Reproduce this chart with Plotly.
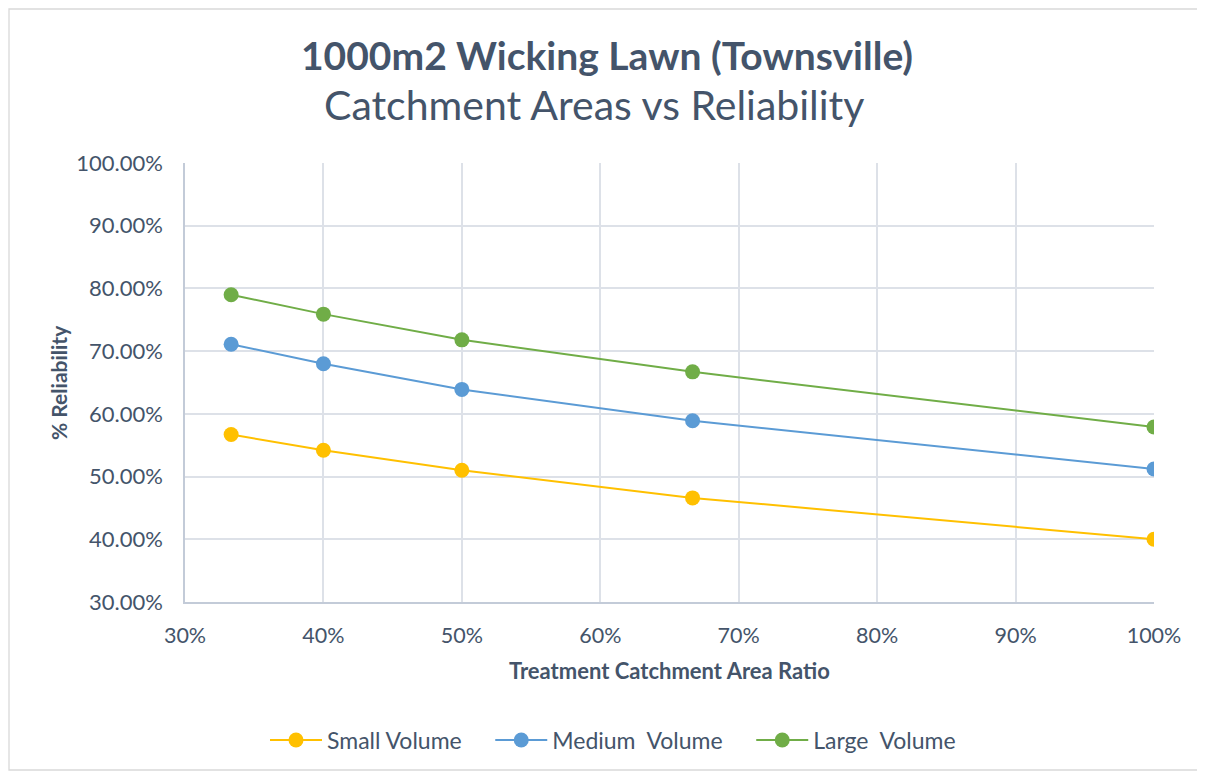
import plotly.graph_objects as go

ratios = [1/3, 0.40, 0.50, 2/3, 1.00]
small = [0.567, 0.542, 0.510, 0.466, 0.400]
medium = [0.711, 0.680, 0.639, 0.589, 0.512]
large = [0.790, 0.759, 0.718, 0.667, 0.579]
names = ["Small Volume\u00a0\u00a0\u00a0\u00a0", "Medium\u00a0 Volume\u00a0\u00a0\u00a0\u00a0", "Large\u00a0 Volume"]
colors = ["#FFC000", "#5B9BD5", "#70AD47"]

FONT = "Lato, 'Open Sans', sans-serif"
TXT = "#44546A"
fig = go.Figure()
for name, vals, c in zip(names, [small, medium, large], colors):
    fig.add_trace(go.Scatter(x=ratios, y=vals, name=name, mode="lines+markers",
                             line=dict(color=c, width=2),
                             marker=dict(color=c, size=15)))

# page has an 8px body margin; work in reference-page coordinates
O = 8
W, H = 1205 - O, 773 - O
L, R, T, B = 185 - O, 1205 - 1154, 163 - O, 773 - 602
pw, ph = W - L - R, H - T - B
def px(x): return (x - O - L) / pw
def py(y): return (H - B - (y - O)) / ph

fig.update_layout(
    width=W, height=H,
    margin=dict(l=L, r=R, t=T, b=B),
    paper_bgcolor="white", plot_bgcolor="white",
    font=dict(family=FONT, color=TXT, size=21),
    showlegend=True,
    legend=dict(orientation="h", xref="container", x=(613 - O) / W, xanchor="center",
                yref="container", y=1 - (740 - O) / H, yanchor="middle",
                font=dict(size=23, color=TXT), itemwidth=52,
                tracegroupgap=0),
    xaxis=dict(range=[0.3, 1.0], dtick=0.1, tickformat=".0%",
               showgrid=True, gridcolor="#DDE1E8", gridwidth=1.5,
               showline=True, linecolor="#C3CBD8", linewidth=1.5,
               zeroline=False, ticks="", ticklabelstandoff=13,
               tickfont=dict(size=21.5, color=TXT)),
    yaxis=dict(range=[0.3, 1.0], dtick=0.1, tickformat=".2%",
               showgrid=True, gridcolor="#DDE1E8", gridwidth=1.5,
               showline=True, linecolor="#C3CBD8", linewidth=1.5,
               zeroline=False, ticks="", ticklabelstandoff=16,
               tickfont=dict(size=22, color=TXT)),
    shapes=[dict(type="rect", xref="paper", yref="paper",
                 x0=px(O + 1), x1=px(1210), y0=py(770), y1=py(O + 1),
                 line=dict(color="#D9D9D9", width=1.3), fillcolor="rgba(0,0,0,0)")],
    annotations=[
        dict(text="<b>1000m2 Wicking Lawn (Townsville)</b>", xref="paper", yref="paper",
             x=px(607), y=py(55), showarrow=False, xanchor="center", yanchor="middle",
             font=dict(size=39, color=TXT)),
        dict(text="Catchment Areas vs Reliability", xref="paper", yref="paper",
             x=px(594), y=py(105), showarrow=False, xanchor="center", yanchor="middle",
             font=dict(size=41, color=TXT)),
        dict(text="<b>% Reliability</b>", xref="paper", yref="paper",
             x=px(58), y=py(383), showarrow=False, textangle=-90,
             xanchor="center", yanchor="middle", font=dict(size=21, color=TXT)),
        dict(text="<b>Treatment Catchment Area Ratio</b>", xref="paper", yref="paper",
             x=px(669), y=py(670), showarrow=False,
             xanchor="center", yanchor="middle", font=dict(size=22, color=TXT)),
    ],
)
fig.write_html("out.html")
